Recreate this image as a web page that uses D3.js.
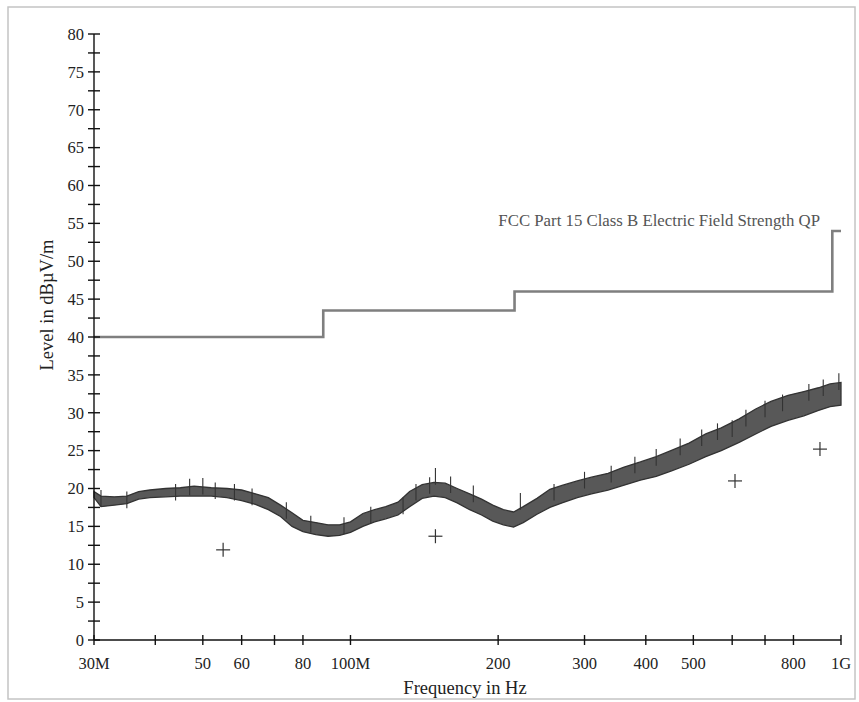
<!DOCTYPE html>
<html>
<head>
<meta charset="utf-8">
<script src="https://cdn.jsdelivr.net/npm/d3@7"></script>
<style>
  body { margin: 0; background: #fff; }
  svg text { font-family: "Liberation Serif", "DejaVu Serif", serif; fill: #222; }
</style>
</head>
<body>
<script>
// trace envelope (MHz, dBuV/m)
var traceFreq = [30, 31, 33, 35, 37, 39, 42, 45, 48, 52, 56, 60, 64, 68, 72, 76, 80, 85, 90, 95,
  100, 106, 112, 118, 125, 132, 140, 148, 156, 165, 175, 185, 195, 205, 215, 225, 240, 255, 270, 290,
  310, 335, 360, 390, 420, 450, 490, 530, 570, 620, 670, 720, 780, 840, 900, 950, 1000];
var traceLow = [18.8, 17.6, 17.8, 18.0, 18.6, 18.8, 18.9, 19.0, 19.0, 19.0, 18.8, 18.4, 17.9, 17.2, 16.3, 15.0, 14.3, 13.9, 13.7, 13.8,
  14.2, 15.0, 15.6, 16.0, 16.5, 17.6, 18.7, 19.0, 18.8, 18.1, 17.2, 16.5, 15.7, 15.2, 14.9, 15.5, 16.6, 17.5, 18.1, 18.8,
  19.3, 19.8, 20.4, 21.1, 21.6, 22.3, 23.2, 24.2, 25.0, 26.1, 27.2, 28.2, 29.0, 29.6, 30.3, 30.8, 31.0];
var traceHigh = [19.6, 19.0, 18.9, 19.0, 19.6, 19.8, 20.0, 20.1, 20.3, 20.1, 20.0, 19.8, 19.3, 18.8, 17.8, 16.8, 15.8, 15.5, 15.2, 15.2,
  15.6, 16.7, 17.2, 17.6, 18.2, 19.6, 20.5, 20.8, 20.7, 20.0, 19.3, 18.6, 17.8, 17.2, 16.9, 17.6, 18.7, 19.9, 20.4, 21.0,
  21.5, 22.0, 22.8, 23.5, 24.2, 25.0, 26.0, 27.2, 28.0, 29.2, 30.5, 31.5, 32.3, 32.8, 33.3, 33.8, 34.0];

// single spikes sticking out of the band
var spikeFreq = [31, 35, 44, 47, 50, 53, 58, 63, 74, 83, 97, 110, 128, 136, 145, 149, 160, 178, 222, 260,
  300, 340, 380, 420, 470, 520, 560, 600, 640, 700, 760, 860, 920, 990];
var spikeTop = [19.8, 19.6, 20.6, 21.3, 21.4, 20.8, 20.6, 20.0, 18.2, 16.4, 16.2, 17.6, 18.8, 20.6, 21.5, 22.7, 21.6, 20.4, 19.4, 20.6,
  22.2, 23.0, 24.2, 25.2, 26.6, 27.8, 28.6, 29.0, 30.4, 31.6, 32.4, 33.8, 34.4, 35.2];

// limit line FCC Part 15 Class B QP
var limitFreq = [30, 88, 88, 216, 216, 960, 960, 1000];
var limitLevel = [40, 40, 43.5, 43.5, 46, 46, 54, 54];

// quasi-peak markers
var qpFreq = [55, 149, 608, 906];
var qpLevel = [11.9, 13.7, 21.0, 25.2];

var xTicks = [30, 40, 50, 60, 70, 80, 100, 200, 300, 400, 500, 600, 700, 800, 1000];
var xLabels = {30: "30M", 50: "50", 60: "60", 80: "80", 100: "100M", 200: "200", 300: "300",
  400: "400", 500: "500", 800: "800", 1000: "1G"};

var W = 859, H = 702;
var margin = {top: 34, right: 18, bottom: 62, left: 94};

var svg = d3.select("body").append("svg")
  .attr("width", W)
  .attr("height", H);

// outer frame
svg.append("rect")
  .attr("x", 8).attr("y", 7)
  .attr("width", 847).attr("height", 692)
  .attr("fill", "none")
  .attr("stroke", "#c4c4c4")
  .attr("stroke-width", 1.5);

var x = d3.scaleLog().domain([30, 1000]).range([margin.left, 841]);
var y = d3.scaleLinear().domain([0, 80]).range([640, margin.top]);

// trace band
var band = traceFreq.map(function(f, i) { return {f: f, lo: traceLow[i], hi: traceHigh[i]}; });
svg.append("path")
  .datum(band)
  .attr("d", d3.area()
    .x(function(d) { return x(d.f); })
    .y0(function(d) { return y(d.lo); })
    .y1(function(d) { return y(d.hi); }))
  .attr("fill", "#585858")
  .attr("stroke", "#333")
  .attr("stroke-width", 1.3);

svg.append("g").selectAll("line")
  .data(spikeFreq)
  .enter().append("line")
  .attr("x1", function(d) { return x(d); })
  .attr("x2", function(d) { return x(d); })
  .attr("y1", function(d, i) { return y(spikeTop[i]); })
  .attr("y2", function(d, i) { return y(spikeTop[i] - 2.2); })
  .attr("stroke", "#333")
  .attr("stroke-width", 1.1);

// limit
var lim = limitFreq.map(function(f, i) { return [f, limitLevel[i]]; });
svg.append("path")
  .datum(lim)
  .attr("d", d3.line().x(function(d) { return x(d[0]); }).y(function(d) { return y(d[1]); }))
  .attr("fill", "none")
  .attr("stroke", "#7f7f7f")
  .attr("stroke-width", 2.6);

svg.append("text")
  .attr("x", 820)
  .attr("y", 226)
  .attr("text-anchor", "end")
  .style("font-size", "16.8px")
  .style("fill", "#555")
  .text("FCC Part 15 Class B Electric Field Strength QP");

// QP markers
var plus = svg.append("g").selectAll("g")
  .data(qpFreq)
  .enter().append("g")
  .attr("transform", function(d, i) { return "translate(" + x(d) + "," + y(qpLevel[i]) + ")"; });
plus.append("line").attr("x1", -7).attr("x2", 7).attr("stroke", "#333").attr("stroke-width", 1.2);
plus.append("line").attr("y1", -7).attr("y2", 7).attr("stroke", "#333").attr("stroke-width", 1.2);

// y axis
var yAxis = svg.append("g");
yAxis.append("line")
  .attr("x1", margin.left).attr("x2", margin.left)
  .attr("y1", y(80)).attr("y2", y(0))
  .attr("stroke", "#111").attr("stroke-width", 1.4);
var yMinor = d3.range(0, 80.1, 2.5);
yAxis.selectAll(".tk")
  .data(yMinor)
  .enter().append("line")
  .attr("x1", margin.left - 6).attr("x2", margin.left + 6)
  .attr("y1", function(d) { return y(d); })
  .attr("y2", function(d) { return y(d); })
  .attr("stroke", "#111").attr("stroke-width", 1.4);
yAxis.selectAll("text")
  .data(d3.range(0, 80.1, 5))
  .enter().append("text")
  .attr("x", 84)
  .attr("y", function(d) { return y(d); })
  .attr("dy", "0.35em")
  .attr("text-anchor", "end")
  .style("font-size", "16.5px")
  .text(function(d) { return d; });

// x axis
var xAxis = svg.append("g");
xAxis.append("line")
  .attr("x1", x(30)).attr("x2", x(1000))
  .attr("y1", y(0)).attr("y2", y(0))
  .attr("stroke", "#111").attr("stroke-width", 1.4);
xAxis.selectAll(".tk")
  .data(xTicks)
  .enter().append("line")
  .attr("x1", function(d) { return x(d); })
  .attr("x2", function(d) { return x(d); })
  .attr("y1", y(0) - 5).attr("y2", y(0) + 5)
  .attr("stroke", "#111").attr("stroke-width", 1.4);
xAxis.selectAll("text")
  .data(xTicks.filter(function(d) { return xLabels[d]; }))
  .enter().append("text")
  .attr("x", function(d) { return x(d); })
  .attr("y", 669)
  .attr("text-anchor", "middle")
  .style("font-size", "16.5px")
  .text(function(d) { return xLabels[d]; });

svg.append("text")
  .attr("transform", "translate(465, 694)")
  .attr("text-anchor", "middle")
  .style("font-size", "18.5px")
  .text("Frequency in Hz");

svg.append("text")
  .attr("transform", "translate(53, 305) rotate(-90)")
  .attr("text-anchor", "middle")
  .style("font-size", "18.5px")
  .text("Level in dBµV/m");
</script>
</body>
</html>
